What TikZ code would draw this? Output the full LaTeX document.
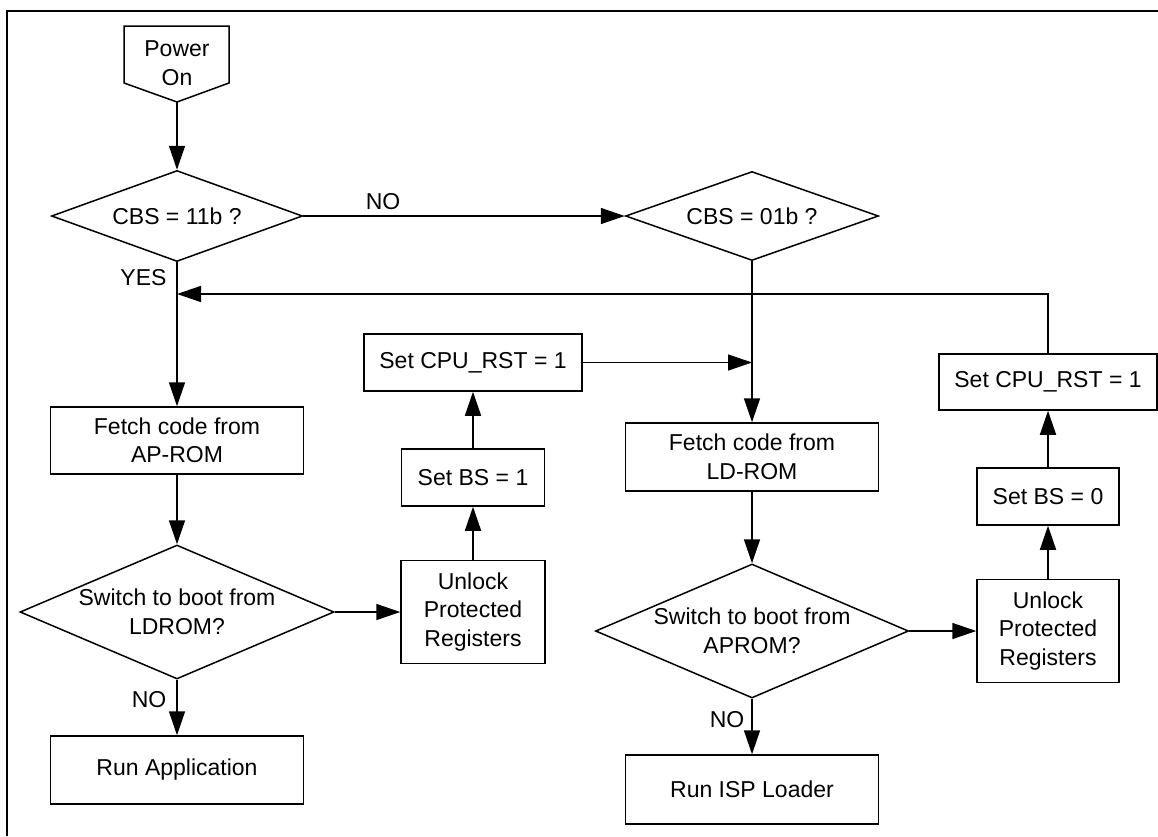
\documentclass[tikz,border=0pt]{standalone}
\usepackage{fontspec}
\setmainfont{Liberation Sans}
\usetikzlibrary{shapes.geometric,arrows.meta}
\newcommand\myfs{\fontsize{23}{28.5}\selectfont}
\tikzset{
  lw/.style={line width=1.5pt},
  box/.style={draw, lw, rectangle, inner sep=0pt, align=center, font=\myfs},
  dec/.style={draw, lw, diamond, inner sep=0pt},
  txt/.style={font=\myfs, inner sep=0pt, align=center},
  arr/.style={lw, -{Triangle[length=24pt,width=16pt]}},
  ln/.style={lw}
}
\begin{document}
\begin{tikzpicture}[x=1pt,y=-1pt]
\useasboundingbox (0,0) rectangle (1158,836);
\fill[white] (0,0) rectangle (1158,836);
% frame
\draw[line width=2pt] (7,836) -- (7,10.5) -- (1158,10.5);

% Power On
\draw[lw] (124,26) -- (229,26) -- (229,83) -- (177,102) coordinate (pwrtip) -- (124,83) -- cycle;
\node[txt] (pwr) at (177,63) {Power\\On};

% left column
\node[dec, minimum width=251pt, minimum height=91pt,
      label={[txt]center:CBS = 11b ?}] (d1) at (177,216) {};
\node[box, minimum width=253pt, minimum height=67pt] (fap) at (177,440.5) {Fetch code from\\AP-ROM};
\node[dec, minimum width=314pt, minimum height=134pt,
      label={[txt]center:{Switch to boot from\\LDROM?}}] (d3) at (177,612) {};
\node[box, minimum width=253pt, minimum height=68pt] (run) at (177,770) {Run Application};

% second column
\node[box, minimum width=218pt, minimum height=57pt] (cpl) at (473,362.5) {Set CPU\_RST = 1};
\node[box, minimum width=143pt, minimum height=57pt] (bs1) at (473,477.5) {Set BS = 1};
\node[box, minimum width=144pt, minimum height=103pt] (ul) at (473,612) {Unlock\\Protected\\Registers};

% third column
\node[dec, minimum width=253pt, minimum height=89pt,
      label={[txt]center:CBS = 01b ?}] (d2) at (752,216) {};
\node[box, minimum width=253pt, minimum height=68pt] (fld) at (752,457) {Fetch code from\\LD-ROM};
\node[dec, minimum width=313pt, minimum height=134pt,
      label={[txt]center:{Switch to boot from\\APROM?}}] (d4) at (752,631) {};
\node[box, minimum width=253pt, minimum height=69pt] (isp) at (752,789.5) {Run ISP Loader};

% right column
\node[box, minimum width=218pt, minimum height=56pt] (cpr) at (1048,382) {Set CPU\_RST = 1};
\node[box, minimum width=142pt, minimum height=57pt] (bs0) at (1048,496.5) {Set BS = 0};
\node[box, minimum width=142pt, minimum height=103pt] (ur) at (1048,631) {Unlock\\Protected\\Registers};

% labels
\node[txt] (no1) at (383,202) {NO};
\node[txt] (yes) at (143.5,278) {YES};
\node[txt] (no2) at (149,700) {NO};
\node[txt] (no3) at (727,720) {NO};

\coordinate (fb) at (177,294);

% connectors
\draw[arr] (pwrtip) -- (d1.north);
\draw[arr] (d1.east) -- (d2.west);
\draw[arr] (d1.south) -- (fap.north);
\draw[arr] (fap.south) -- (d3.north);
\draw[arr] (d3.south) -- (run.north);
\draw[arr] (d3.east) -- (ul.west);
\draw[arr] (ul.north) -- (bs1.south);
\draw[arr] (bs1.north) -- (cpl.south);
\draw[arr] (cpl.east) -- (cpl.east -| fld.north);
\draw[arr] (d2.south) -- (fld.north);
\draw[arr] (fld.south) -- (d4.north);
\draw[arr] (d4.south) -- (isp.north);
\draw[arr] (d4.east) -- (ur.west);
\draw[arr] (ur.north) -- (bs0.south);
\draw[arr] (bs0.north) -- (cpr.south);
\draw[arr] (cpr.north) |- (fb);
\end{tikzpicture}
\end{document}
